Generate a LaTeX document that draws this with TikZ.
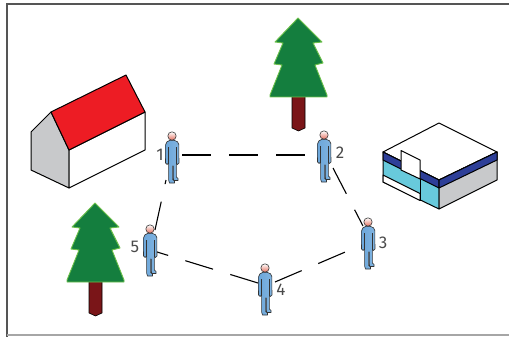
\documentclass[tikz,border=0pt]{standalone}
\usepackage{fontspec}
\setmainfont{Fira Sans}
\usetikzlibrary{calc}
\definecolor{roofred}{HTML}{ED1C24}
\definecolor{wallgray}{HTML}{C8C9CB}
\definecolor{treegreen}{HTML}{147E3E}
\definecolor{treeedge}{HTML}{6CC04A}
\definecolor{trunkred}{HTML}{7A1518}
\definecolor{bandblue}{HTML}{2E3F98}
\definecolor{bandcyan}{HTML}{68CADC}
\definecolor{pblue}{HTML}{6CA6DA}
\definecolor{plight}{HTML}{D4EEFB}
\definecolor{pface}{HTML}{E4705E}
\definecolor{framegray}{HTML}{555555}
\definecolor{labelgray}{HTML}{4A4A4A}
\tikzset{
  outline/.style={draw=black, line width=1pt, line join=round},
  link/.style={draw=black, line width=1.1pt, dash pattern=on 29pt off 18pt},
  lbl/.style={text=labelgray, font=\fontsize{17}{17}\selectfont, inner sep=0pt},
  personline/.style={draw=black!80, line width=0.6pt, line join=round},
  tree/.pic={
    % trunk with pointed foot
    \filldraw[fill=trunkred, draw=black, line width=0.6pt, line join=round]
      (-6,76) -- (7,76) -- (7,110) -- (0.5,113) -- (-6,110) -- cycle;
    % three tiers of foliage
    \filldraw[fill=treegreen, draw=treeedge, line width=0.9pt, line join=round]
      (0,0) -- (24,24) -- (15,25) -- (25,45) -- (17,47) -- (29,77) -- (29,79)
      -- (-28,79) -- (-28,77) -- (-16,47) -- (-24,46) -- (-15,25) -- (-23,24) -- cycle;
  },
  person/.pic={
    \draw[personline, left color=pblue, middle color=plight, right color=pblue!80!plight]
      (-1.8,4.2) -- (-5,5.8) -- (-6.3,8.5) -- (-6.5,27) -- (-4.8,28.5) -- (-3.4,27)
      -- (-3.4,44) -- (-2.5,47) -- (2.5,47) -- (2.5,45) -- (0.6,43.5) -- (0.6,30)
      -- (1.2,30) -- (1.2,42) -- (2,44.5) -- (6,44.5) -- (6,42.5) -- (4.4,41)
      -- (4.4,27) -- (5.5,28.5) -- (7,27) -- (6.8,8.5) -- (5.5,5.8) -- (2,4.2) -- cycle;
    \draw[personline] (-3.4,11) -- (-3.4,27) (4.4,11) -- (4.4,27);
    \draw[personline, top color=white, bottom color=pface] (0,0) circle (4.2);
  }
}
\begin{document}
\begin{tikzpicture}[x=1pt, y=-1pt]
\useasboundingbox (0,0) rectangle (509,337);

% frame
\draw[framegray, line width=2pt] (7,337) -- (7,4) -- (509,4);
\draw[black!35, line width=1.5pt] (7,335) -- (509,335);

% house
\filldraw[outline, fill=wallgray] (31,132) -- (51,112) -- (69,150) -- (69,188) -- (31,170) -- cycle;
\filldraw[outline, fill=white] (69,150) -- (145,112) -- (145,150) -- (69,188) -- cycle;
\filldraw[outline, fill=roofred] (51,112) -- (126,75) -- (145,112) -- (69,150) -- cycle;

% flat-roofed building
\filldraw[outline, fill=white] (383,152) -- (439,123) -- (497,152) -- (439,180) -- cycle;
\filldraw[outline, fill=bandcyan] (383,152) -- (439,180) -- (439,209) -- (383,182) -- cycle;
\filldraw[outline, fill=bandblue] (383,152) -- (439,180) -- (439,188) -- (383,160) -- cycle;
\filldraw[outline, fill=white] (383,175) -- (420,193.5) -- (420,200.5) -- (383,182) -- cycle;
\filldraw[outline, fill=wallgray] (439,180) -- (497,152) -- (497,180) -- (439,209) -- cycle;
\filldraw[outline, fill=bandblue] (439,180) -- (497,152) -- (497,160) -- (439,188) -- cycle;
\filldraw[outline, fill=white] (401,150.5) -- (420,160) -- (420,179) -- (401,170) -- cycle;
\draw[outline] (420,179) -- (420,200.5);

% trees
\pic at (298,18) {tree};
\pic at (95,203) {tree};

% people
\coordinate (p1) at (172,136);
\coordinate (p2) at (324,135);
\coordinate (p3) at (368,222);
\coordinate (p4) at (265,268);
\coordinate (p5) at (150,229);

% links between neighbours
\draw[link] ($(p1)+(10,19)$) -- ($(p2)+(-7,20)$);
\draw[link] ($(p2)+(9,33)$) -- ($(p3)+(-5,4)$);
\draw[link] ($(p4)+(10,14)$) -- ($(p3)+(-11,25)$);
\draw[link] ($(p4)+(-7,15)$) -- ($(p5)+(7,23)$);
\draw[link] ($(p5)+(5,1)$) -- ($(p1)+(-6,44)$);

\foreach \p in {p1,p2,p3,p4,p5} \pic at (\p) {person};

\node[lbl] (n1) at (160,155) {1};
\node[lbl] (n2) at (340,153) {2};
\node[lbl] (n3) at (383,243) {3};
\node[lbl] (n4) at (281,290) {4};
\node[lbl] (n5) at (135,247) {5};
\end{tikzpicture}
\end{document}
